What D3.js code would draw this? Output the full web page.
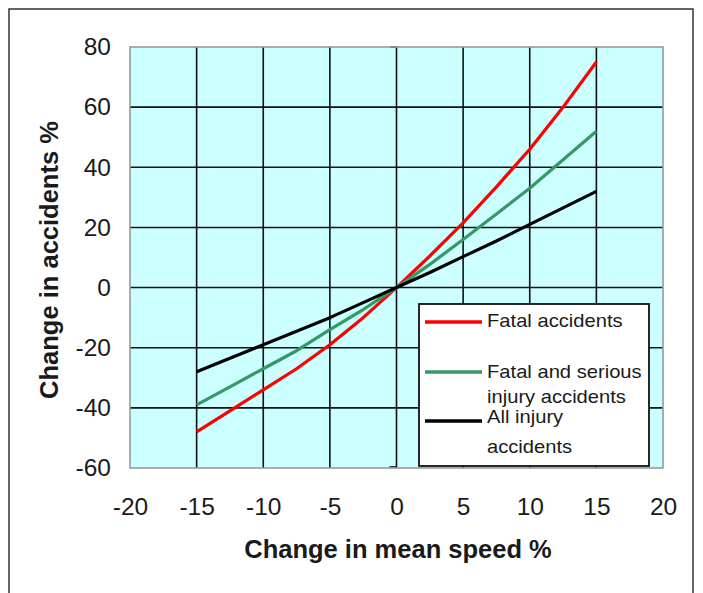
<!DOCTYPE html>
<html>
<head>
<meta charset="utf-8">
<script src="https://cdn.jsdelivr.net/npm/d3@7"></script>
<style>
  html, body { margin: 0; padding: 0; background: #fff; }
  svg { display: block; font-family: "Liberation Sans", Arial, sans-serif; }
</style>
</head>
<body>
<svg id="chart" width="703" height="593"></svg>
<script>
// ---- data ----
const speedChange = [-15, -12.5, -10, -7.5, -5, -2.5, 0, 2.5, 5, 7.5, 10, 12.5, 15];
const fatal        = [-48, -41, -34, -27, -19, -10, 0, 10.5, 21.5, 33.5, 46, 60, 75];
const fatalSerious = [-39, -33, -27, -21, -14, -7.3, 0, 7.7, 16, 24.5, 33, 42.5, 52];
const allInjury    = [-28, -23.5, -19, -14.5, -10, -5, 0, 5, 10.3, 15.5, 21, 26.5, 32];
const xTicks = [-20, -15, -10, -5, 0, 5, 10, 15, 20];
const yTicks = [-60, -40, -20, 0, 20, 40, 60, 80];
const seriesNames = ["Fatal accidents", "Fatal and serious|injury accidents", "All injury|accidents"];
const seriesColors = ["#ff0000", "#339966", "#000000"];
const xTitle = "Change in mean speed %";
const yTitle = "Change in accidents %";

const series = [fatal, fatalSerious, allInjury];

const svg = d3.select("#chart");
const L = 130, R = 663, T = 47, B = 468;
const x = d3.scaleLinear().domain([-20, 20]).range([L, R]);
const y = d3.scaleLinear().domain([-60, 80]).range([B, T]);

// outer frame
svg.append("rect").attr("x", 9).attr("y", 9).attr("width", 684).attr("height", 600)
  .attr("fill", "none").attr("stroke", "#333").attr("stroke-width", 1.5);

// plot background
svg.append("rect").attr("x", L).attr("y", T).attr("width", R - L).attr("height", B - T)
  .attr("fill", "#ccffff");

// grid
const grid = svg.append("g").attr("stroke", "#111").attr("stroke-width", 1.6);
grid.selectAll(".vg").data(xTicks.filter(d => d > -20 && d < 20)).join("line")
  .attr("x1", d => x(d)).attr("x2", d => x(d)).attr("y1", T).attr("y2", B);
grid.selectAll(".hg").data(yTicks.filter(d => d > -60 && d < 80)).join("line")
  .attr("x1", L).attr("x2", R).attr("y1", d => y(d)).attr("y2", d => y(d));
// small marks at the zero line ends
grid.append("line").attr("x1", x(0) - 6).attr("x2", x(0)).attr("y1", T).attr("y2", T);
grid.append("line").attr("x1", x(0) - 7).attr("x2", x(0)).attr("y1", B - 1).attr("y2", B - 1);

// plot border
svg.append("rect").attr("x", L).attr("y", T).attr("width", R - L).attr("height", B - T)
  .attr("fill", "none").attr("stroke", "#999").attr("stroke-width", 1.6);

// series lines
const line = d3.line().x((d, i) => x(speedChange[i])).y(d => y(d));
series.forEach((s, k) => {
  svg.append("path").datum(s).attr("d", line)
    .attr("fill", "none").attr("stroke", seriesColors[k]).attr("stroke-width", 3.2)
    .attr("stroke-linejoin", "round");
});

// axes (labels only)
const fmt = d => String(d);
const xAxis = svg.append("g").attr("transform", `translate(0,${B})`)
  .call(d3.axisBottom(x).tickValues(xTicks).tickSize(0).tickPadding(30).tickFormat(fmt));
xAxis.select(".domain").remove();
xAxis.selectAll("text").attr("font-size", 24.5).attr("fill", "#1a1a1a")
  .attr("font-family", "Liberation Sans, Arial, sans-serif");

const yAxis = svg.append("g").attr("transform", `translate(${L},0)`)
  .call(d3.axisLeft(y).tickValues(yTicks).tickSize(0).tickPadding(19).tickFormat(fmt));
yAxis.select(".domain").remove();
yAxis.selectAll("text").attr("font-size", 24.5).attr("fill", "#1a1a1a")
  .attr("font-family", "Liberation Sans, Arial, sans-serif");

// axis titles
svg.append("text").attr("x", 398).attr("y", 558).attr("text-anchor", "middle")
  .attr("font-size", 25.5).attr("font-weight", "bold").attr("fill", "#1a1a1a").text(xTitle);
svg.append("text").attr("transform", "translate(58,260) rotate(-90)").attr("text-anchor", "middle")
  .attr("font-size", 25.5).attr("font-weight", "bold").attr("fill", "#1a1a1a").text(yTitle);

// legend
const lg = svg.append("g");
lg.append("rect").attr("x", 419).attr("y", 304).attr("width", 230).attr("height", 162)
  .attr("fill", "#fff").attr("stroke", "#111").attr("stroke-width", 1.8);
const lineYs = [322, 372, 421];
const textBaselines = [[327], [378, 403], [423, 453]];
seriesNames.forEach((name, k) => {
  lg.append("line").attr("x1", 425).attr("x2", 482).attr("y1", lineYs[k]).attr("y2", lineYs[k])
    .attr("stroke", seriesColors[k]).attr("stroke-width", 3.5);
  name.split("|").forEach((t, j) => {
    lg.append("g").attr("transform", `translate(487,${textBaselines[k][j]}) scale(1.12,1)`)
      .append("text").attr("font-size", 18).attr("fill", "#1a1a1a").text(t);
  });
});
</script>
</body>
</html>
